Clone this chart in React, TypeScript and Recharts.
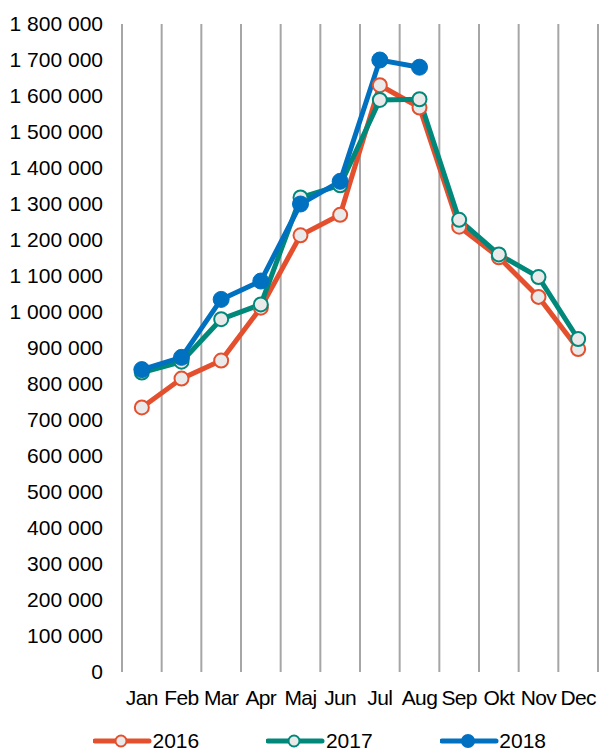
import React from 'react';
import { LineChart, Line, XAxis, YAxis, CartesianGrid, Legend } from 'recharts';

const months = ['Jan', 'Feb', 'Mar', 'Apr', 'Maj', 'Jun', 'Jul', 'Aug', 'Sep', 'Okt', 'Nov', 'Dec'];
const s2016 = [735000, 815000, 865000, 1012000, 1213000, 1270000, 1630000, 1568000, 1237000, 1152000, 1042000, 897000];
const s2017 = [832000, 862000, 980000, 1021000, 1318000, 1352000, 1589000, 1591000, 1256000, 1160000, 1097000, 925000];
const s2018: (number | null)[] = [840000, 874000, 1035000, 1086000, 1300000, 1363000, 1700000, 1680000, null, null, null, null];
const yTicks = [0, 100000, 200000, 300000, 400000, 500000, 600000, 700000, 800000, 900000, 1000000, 1100000, 1200000, 1300000, 1400000, 1500000, 1600000, 1700000, 1800000];

const data = months.map((m, i) => ({ month: m, y2016: s2016[i], y2017: s2017[i], y2018: s2018[i] }));

const C16 = '#E4502E';
const C17 = '#00887A';
const C18 = '#0070C0';
const HOLLOW = '#EAEAEA';
const FONT = '"Liberation Sans", Arial, sans-serif';

const fmt = (v: number) => String(v).replace(/\B(?=(\d{3})+(?!\d))/g, ' ');

const legendItems = [
  { name: '2016', color: C16, hollow: true },
  { name: '2017', color: C17, hollow: true },
  { name: '2018', color: C18, hollow: false },
];

const renderLegend = () => (
  <div style={{ display: 'flex', paddingLeft: 85, height: 20, alignItems: 'center', fontFamily: FONT, fontSize: 21, color: '#000' }}>
    {legendItems.map((it) => (
      <div key={it.name} style={{ display: 'flex', alignItems: 'center', width: 173.4, flexShrink: 0 }}>
        <svg width={59.5} height={20} style={{ display: 'block', flexShrink: 0 }}>
          <line x1={2} y1={10} x2={56} y2={10} stroke={it.color} strokeWidth={5} strokeLinecap="round" />
          <circle cx={28} cy={10} r={it.hollow ? 5.5 : 6} fill={it.hollow ? HOLLOW : it.color} stroke={it.color} strokeWidth={2} />
        </svg>
        <span style={{ lineHeight: '20px' }}>{it.name}</span>
      </div>
    ))}
  </div>
);

const gridGen = ({ offset }: any) => {
  const arr: number[] = [];
  for (let i = 0; i <= months.length; i++) arr.push(offset.left + (i * offset.width) / months.length);
  return arr;
};

export default function App() {
  const yFont = { fontFamily: FONT, fontSize: 21, fill: '#000' };
  const xFont = { fontFamily: FONT, fontSize: 21, fill: '#000', letterSpacing: -0.6 };
  return (
    <div style={{ position: 'absolute', left: 8, top: 8, width: 591, height: 743, overflow: 'visible' }}>
      <style>{'html,body{overflow:visible;margin:0}'}</style>
      <LineChart width={591} height={743} data={data} margin={{ top: 16, right: 1, bottom: 0, left: 0 }}>
        <CartesianGrid horizontal={false} stroke="#A6A6A6" strokeWidth={2} verticalCoordinatesGenerator={gridGen} />
        <XAxis dataKey="month" scale="band" interval={0} axisLine={false} tickLine={false} tickSize={6} tickMargin={12} height={59} tick={xFont} />
        <YAxis domain={[0, 1800000]} ticks={yTicks} interval={0} axisLine={false} tickLine={false} tickSize={6} tickMargin={13} width={114} tick={yFont} tickFormatter={fmt} />
        <Legend verticalAlign="bottom" content={renderLegend} />
        <Line dataKey="y2016" stroke={C16} strokeWidth={5} isAnimationActive={false}
          dot={{ r: 7, fill: HOLLOW, stroke: C16, strokeWidth: 2 }} />
        <Line dataKey="y2017" stroke={C17} strokeWidth={5} isAnimationActive={false}
          dot={{ r: 7, fill: HOLLOW, stroke: C17, strokeWidth: 2 }} />
        <Line dataKey="y2018" stroke={C18} strokeWidth={5} isAnimationActive={false}
          dot={{ r: 8, fill: C18, stroke: C18, strokeWidth: 1 }} />
      </LineChart>
    </div>
  );
}
